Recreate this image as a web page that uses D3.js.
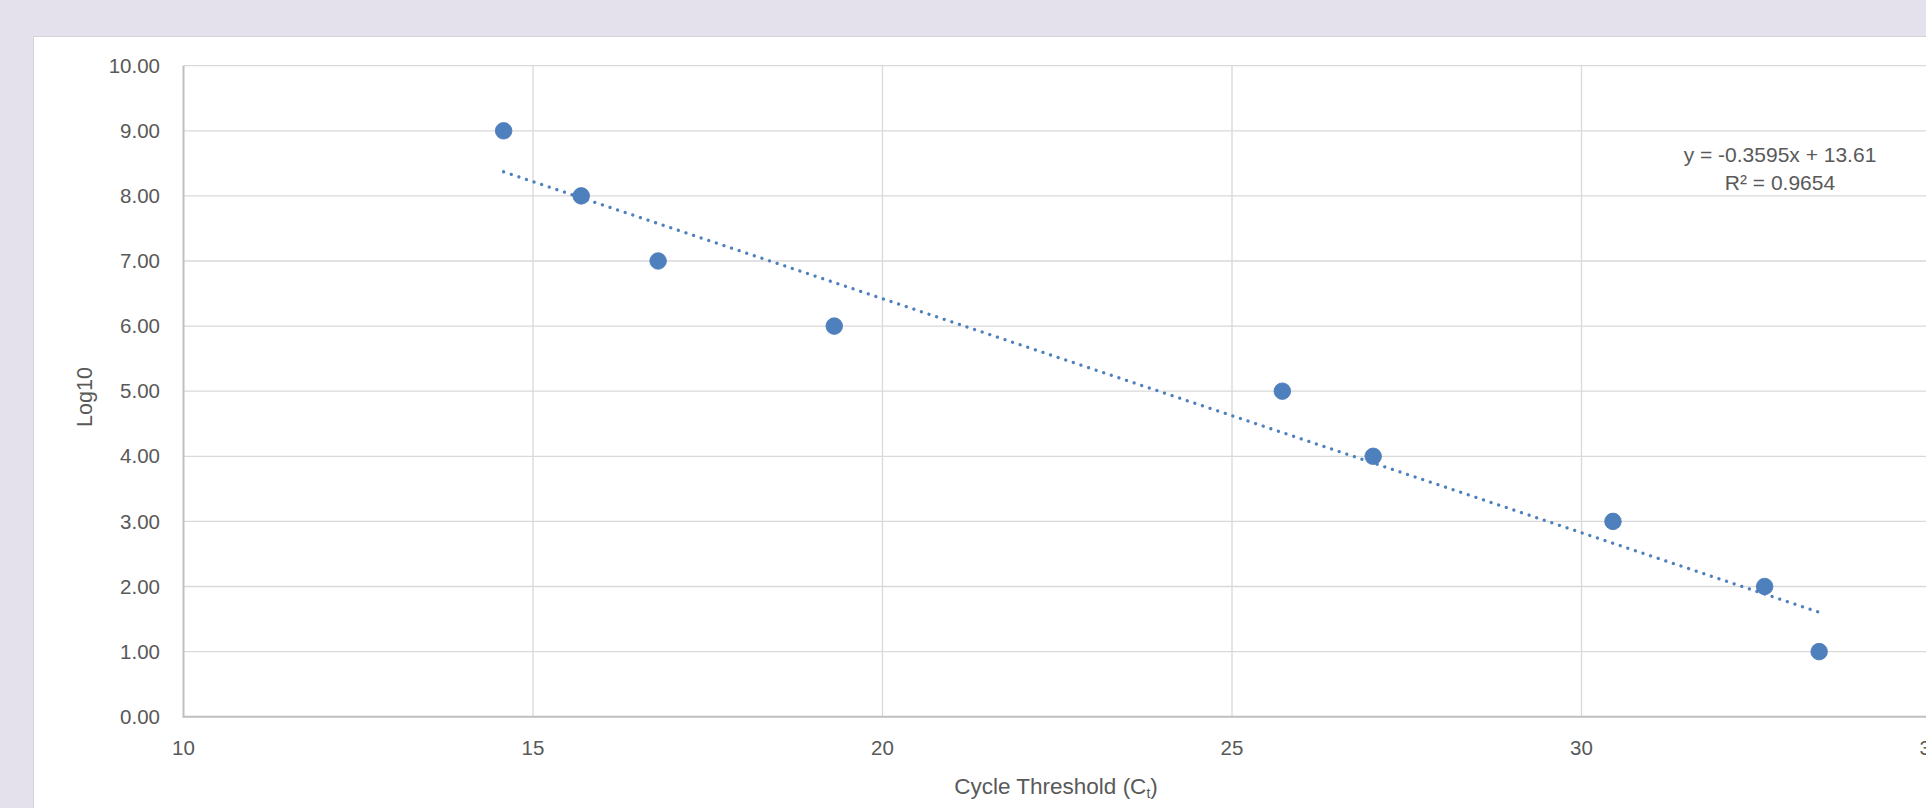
<!DOCTYPE html>
<html>
<head>
<meta charset="utf-8">
<script src="https://cdn.jsdelivr.net/npm/d3@7"></script>
<style>
  html, body { margin: 0; padding: 0; background: #e4e0ec; }
  svg { display: block; }
</style>
</head>
<body>
<script>
// Ct readings and their log10 copy numbers
const cycleThreshold = [14.58, 15.69, 16.79, 19.31, 25.72, 27.02, 30.45, 32.62, 33.40];
const log10Copies = [9, 8, 7, 6, 5, 4, 3, 2, 1];
const xTicks = [10, 15, 20, 25, 30, 35];
const yTicks = [0, 1, 2, 3, 4, 5, 6, 7, 8, 9, 10];
const equationLines = ["y = -0.3595x + 13.61", "R\u00b2 = 0.9654"];

const width = 1926;
const height = 808;
const plot = { left: 183.5, top: 65.7, right: 183.5 + 25 * 69.9, bottom: 716.7 };
const font = "'Liberation Sans', Arial, sans-serif";
const textColor = "#595959";
const markColor = "#4e80bd";

const svg = d3.select("body")
  .append("svg")
  .attr("width", width)
  .attr("height", height);

svg.append("rect")
  .attr("width", width)
  .attr("height", height)
  .attr("fill", "#e4e0ec");

// white chart panel
svg.append("rect")
  .attr("x", 33.5)
  .attr("y", 36.5)
  .attr("width", width)
  .attr("height", height)
  .attr("fill", "#ffffff")
  .attr("stroke", "#d6d3dc")
  .attr("stroke-width", 1);

const x = d3.scaleLinear().domain([10, 35]).range([plot.left, plot.right]);
const y = d3.scaleLinear().domain([0, 10]).range([plot.bottom, plot.top]);

// gridlines
svg.append("g")
  .selectAll("line")
  .data(yTicks.filter((d) => d > 0))
  .join("line")
  .attr("x1", plot.left)
  .attr("x2", plot.right)
  .attr("y1", (d) => y(d))
  .attr("y2", (d) => y(d))
  .attr("stroke", "#d9d9d9")
  .attr("stroke-width", 1.3);

svg.append("g")
  .selectAll("line")
  .data(xTicks.filter((d) => d > 10))
  .join("line")
  .attr("x1", (d) => x(d))
  .attr("x2", (d) => x(d))
  .attr("y1", plot.top)
  .attr("y2", plot.bottom)
  .attr("stroke", "#d9d9d9")
  .attr("stroke-width", 1.3);

// axis lines
svg.append("line")
  .attr("x1", plot.left).attr("x2", plot.left)
  .attr("y1", plot.top).attr("y2", plot.bottom + 1)
  .attr("stroke", "#bfbfbf").attr("stroke-width", 2);
svg.append("line")
  .attr("x1", plot.left).attr("x2", plot.right)
  .attr("y1", plot.bottom).attr("y2", plot.bottom)
  .attr("stroke", "#bfbfbf").attr("stroke-width", 2);

// tick labels
svg.append("g")
  .selectAll("text")
  .data(yTicks)
  .join("text")
  .attr("x", 160)
  .attr("y", (d) => y(d))
  .attr("dy", "0.35em")
  .attr("text-anchor", "end")
  .attr("fill", textColor)
  .attr("font-family", font)
  .attr("font-size", 20.5)
  .text((d) => d3.format(".2f")(d));

svg.append("g")
  .selectAll("text")
  .data(xTicks)
  .join("text")
  .attr("x", (d) => x(d))
  .attr("y", 748)
  .attr("dy", "0.35em")
  .attr("text-anchor", "middle")
  .attr("fill", textColor)
  .attr("font-family", font)
  .attr("font-size", 20.5)
  .text((d) => d);

// axis titles
const xTitle = svg.append("text")
  .attr("x", 1056)
  .attr("y", 786)
  .attr("dy", "0.35em")
  .attr("text-anchor", "middle")
  .attr("fill", textColor)
  .attr("font-family", font)
  .attr("font-size", 22.5);
xTitle.append("tspan").text("Cycle Threshold (C");
xTitle.append("tspan").attr("dy", 4).attr("font-size", 14).text("t");
xTitle.append("tspan").attr("dy", -4).text(")");

svg.append("text")
  .attr("transform", "translate(84,397) rotate(-90)")
  .attr("dy", "0.35em")
  .attr("text-anchor", "middle")
  .attr("fill", textColor)
  .attr("font-family", font)
  .attr("font-size", 21.5)
  .text("Log10");

// least squares trendline
const mx = d3.mean(cycleThreshold);
const my = d3.mean(log10Copies);
const sxy = d3.sum(cycleThreshold, (v, i) => (v - mx) * (log10Copies[i] - my));
const sxx = d3.sum(cycleThreshold, (v) => (v - mx) ** 2);
const slope = sxy / sxx;
const intercept = my - slope * mx;
const [xMin, xMax] = d3.extent(cycleThreshold);

svg.append("path")
  .datum([xMin, xMax])
  .attr("d", d3.line().x((d) => x(d)).y((d) => y(slope * d + intercept)))
  .attr("fill", "none")
  .attr("stroke", markColor)
  .attr("stroke-width", 3.3)
  .attr("stroke-linecap", "round")
  .attr("stroke-dasharray", "0.01 8");

// points
svg.append("g")
  .selectAll("circle")
  .data(cycleThreshold.map((v, i) => [v, log10Copies[i]]))
  .join("circle")
  .attr("cx", (d) => x(d[0]))
  .attr("cy", (d) => y(d[1]))
  .attr("r", 8.3)
  .attr("fill", markColor)
  .attr("stroke", "#4a7ab6")
  .attr("stroke-width", 0.8);

// equation label
svg.append("g")
  .selectAll("text")
  .data(equationLines)
  .join("text")
  .attr("x", 1780)
  .attr("y", (d, i) => 155 + i * 28)
  .attr("dy", "0.35em")
  .attr("text-anchor", "middle")
  .attr("fill", textColor)
  .attr("font-family", font)
  .attr("font-size", 21)
  .text((d) => d);
</script>
</body>
</html>
